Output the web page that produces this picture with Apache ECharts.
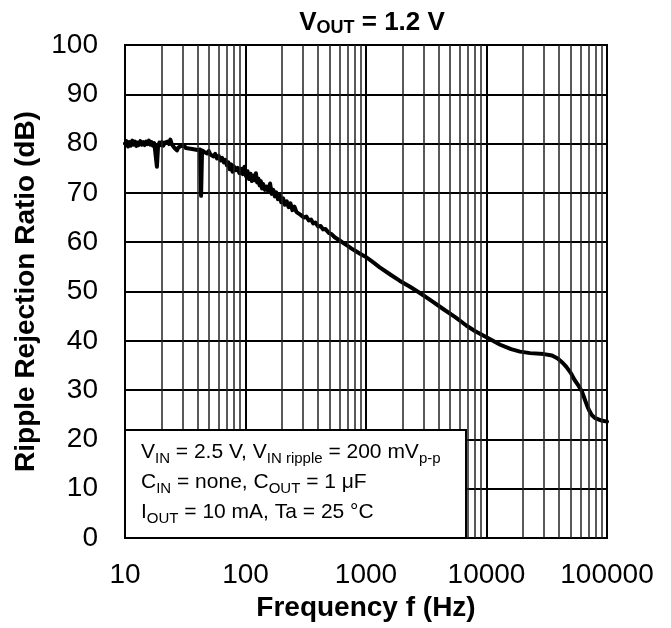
<!DOCTYPE html>
<html>
<head>
<meta charset="utf-8">
<script src="https://cdn.jsdelivr.net/npm/echarts@6/dist/echarts.min.js"></script>
<style>html,body{margin:0;padding:0;background:#fff;}#c{width:671px;height:628px;}</style>
</head>
<body>
<div id="c"></div>
<script>
var freqHz = [10,10.3,10.6,10.9,11.2,11.5,11.8,12.1,12.4,12.7,13,13.4,13.8,14.2,14.6,15,15.4,15.8,16.2,16.6,17,17.5,18,18.4,18.8,19.3,19.8,20.3,20.8,21.4,22,22.6,23.2,23.8,24.4,25,25.6,26.3,27,27.7,28.4,29.2,30,31,32,33,34,35,36,37,38,39,40,41,42,42.8,43.6,44.5,45.5,46.5,48,49.5,51,52.5,54,56,58,60,62,64,66,68,70,72,74,76,78,80,83,86,89,92,95,98,101,104,107,110,113,116,119,122,125,128,131,134,137,140,145,150,155,160,165,170,175,180,186,192,198,205,212,220,228,236,245,255,265,275,285,295,305,320,335,350,365,380,400,420,440,460,490,520,550,600,650,700,760,820,900,1000,1150,1300,1600,1900,2300,2800,3500,4400,5500,6800,8000,10000,13000,16000,19000,23000,30000,35000,39000,43000,46000,50000,54000,58000,62000,65000,68000,71000,75000,80000,88000,100000];
var rrDb = [80.0,80.5,79.4,80.3,79.6,80.6,79.8,80.4,79.5,80.2,79.7,80.5,79.8,80.3,79.7,80.4,79.9,80.6,79.8,80.3,79.6,80.1,79.7,75.3,79.4,80.2,79.7,80.3,79.6,80.2,79.8,80.4,79.9,80.8,79.9,80.1,79.2,79.6,78.6,79.2,78.9,79.5,79.1,79.6,79.1,79.4,79.0,79.3,78.9,79.3,78.8,79.2,78.7,79.0,78.8,69.4,78.6,78.9,78.3,78.6,78.0,78.5,77.8,78.2,77.4,77.9,77.0,77.5,76.6,77.1,76.2,76.7,75.6,76.2,74.8,75.8,74.3,75.4,74.6,75.1,74.0,74.9,73.8,75.3,73.4,74.4,72.8,73.9,72.4,73.5,72.6,74.0,72.1,72.9,71.5,72.4,70.9,71.8,70.6,71.3,70.2,71.9,69.8,70.6,69.3,70.1,68.7,69.6,68.1,68.9,67.6,68.3,67.1,67.9,66.5,67.2,66.1,66.5,65.6,66.0,65.0,65.2,64.4,64.6,63.8,64.0,63.2,63.3,62.6,62.7,61.9,61.6,61.0,60.4,59.8,59.3,58.7,58.2,57.6,57.0,55.9,54.9,53.4,52.2,51.0,49.7,48.1,46.4,44.8,43.1,42.0,40.7,39.2,38.3,37.8,37.5,37.3,37.0,36.4,35.5,34.7,33.5,32.0,30.9,29.7,28.3,27.0,25.9,24.9,24.3,23.9,23.6];
var xTickLabels = ['10','100','1000','10000','100000'];
var yTickLabels = ['0','10','20','30','40','50','60','70','80','90','100'];
var minorGridFreqs = [];
[10,100,1000,10000].forEach(function(d){ for (var k=2;k<=9;k++) minorGridFreqs.push(d*k); });

var points = freqHz.map(function(f,i){ return [f, rrDb[i]]; });
var chart = echarts.init(document.getElementById('c'), null, {renderer:'canvas'});
var FONT = 'Liberation Sans, Arial, sans-serif';
chart.setOption({
  animation: false,
  backgroundColor: '#fff',
  title: {
    text: '{a|V}{s|OUT}{a| = 1.2 V}',
    left: 367, textAlign: 'center', top: 3,
    textStyle: {
      rich: {
        a: {fontSize: 26, fontWeight: 'bold', fontFamily: FONT, color:'#000'},
        s: {fontSize: 18, fontWeight: 'bold', fontFamily: FONT, color:'#000', padding:[11,0,0,0]}
      }
    }
  },
  grid: {left: 125, right: 64, top: 45, bottom: 90, show: true, borderColor: '#000', borderWidth: 2, backgroundColor: 'transparent'},
  xAxis: {
    type: 'log', logBase: 10, min: 10, max: 100000,
    name: 'Frequency f (Hz)', nameLocation: 'middle', nameGap: 53,
    nameTextStyle: {fontSize: 28, fontWeight: 'bold', fontFamily: FONT, color: '#000'},
    axisLine: {show: true, lineStyle: {color: '#000', width: 2}},
    axisTick: {show: false},
    axisLabel: {fontSize: 28, fontFamily: FONT, color: '#000', margin: 23,
      formatter: function(v){ var i = Math.round(Math.log10(v)) - 1; return xTickLabels[i] !== undefined ? xTickLabels[i] : ''; }},
    splitLine: {show: true, lineStyle: {color: '#000', width: 2}}
  },
  yAxis: {
    type: 'value', min: 0, max: 100, interval: 10,
    name: 'Ripple Rejection Ratio (dB)', nameLocation: 'middle', nameGap: 85,
    nameTextStyle: {fontSize: 28, fontWeight: 'bold', fontFamily: FONT, color: '#000'},
    axisLine: {show: true, lineStyle: {color: '#000', width: 2}},
    axisTick: {show: false},
    axisLabel: {fontSize: 28, fontFamily: FONT, color: '#000', margin: 27,
      formatter: function(v){ return yTickLabels[Math.round(v/10)]; }},
    splitLine: {show: true, lineStyle: {color: '#000', width: 2}}
  },
  series: [
    {
      type: 'line', data: [], silent: true, z: 1,
      markLine: {
        silent: true, symbol: 'none', label: {show: false},
        lineStyle: {color: '#222', width: 1.5, type: 'solid'},
        data: minorGridFreqs.map(function(f){ return {xAxis: f}; })
      }
    },
    {
      type: 'line', data: points, showSymbol: false, smooth: false, z: 3,
      lineStyle: {color: '#000', width: 4, join: 'round', cap: 'round'}
    }
  ],
  graphic: [
    {
      type: 'rect', left: 124, top: 429, z: 10,
      shape: {width: 341, height: 108},
      style: {fill: '#fff', stroke: '#000', lineWidth: 2}
    },
    {
      type: 'text', left: 141, top: 442, z: 11,
      style: {
        text: '{n|V}{s|IN}{n| = 2.5 V, V}{s|IN ripple}{n| = 200 mV}{s|p-p}\n{n|C}{s|IN}{n| = none, C}{s|OUT}{n| = 1 μF}\n{n|I}{s|OUT}{n| = 10 mA, Ta = 25 °C}',
        rich: {
          n: {fontSize: 21, fontFamily: FONT, color: '#000', lineHeight: 30},
          s: {fontSize: 15, fontFamily: FONT, color: '#000', padding: [13,0,0,0]}
        }
      }
    }
  ]
});
</script>
</body>
</html>
